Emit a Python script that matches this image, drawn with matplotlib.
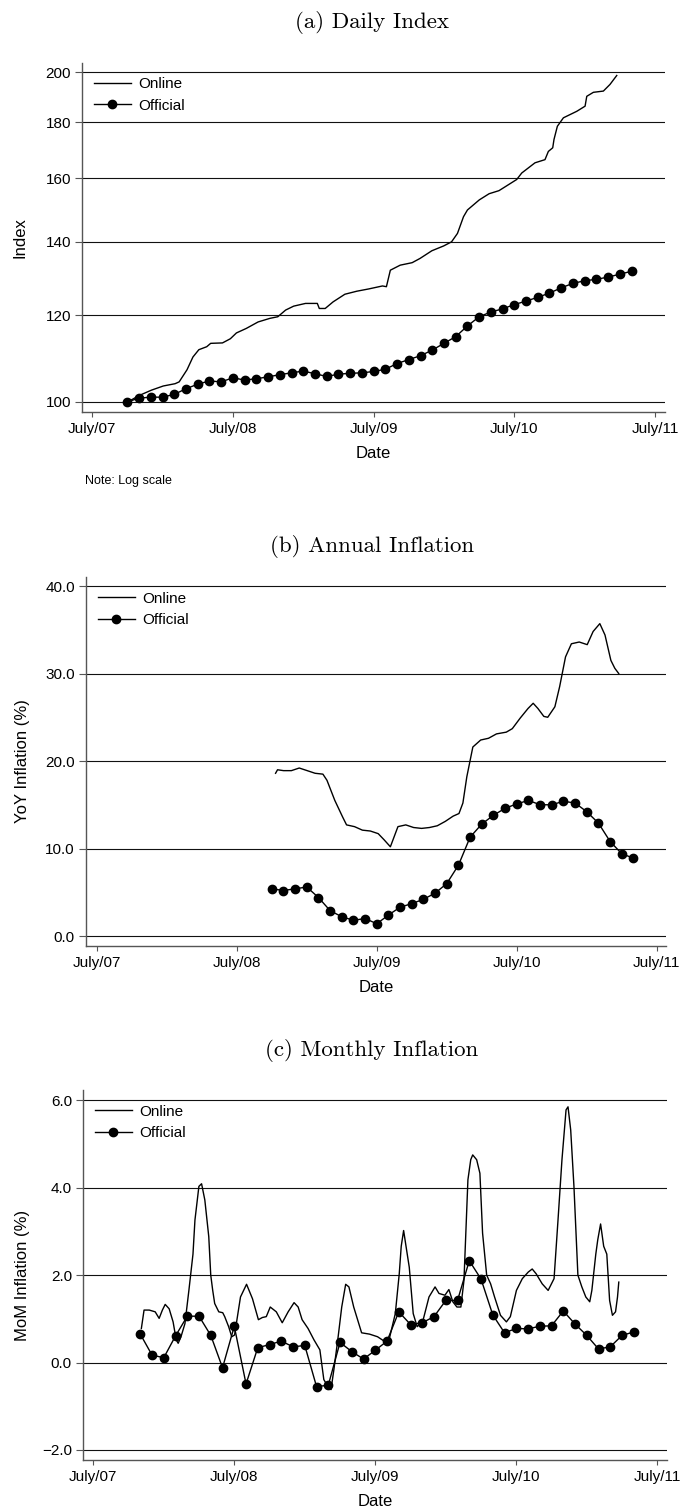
import numpy as np
import pandas as pd
import matplotlib
matplotlib.use('Agg')
import matplotlib.pyplot as plt
from matplotlib.ticker import FixedLocator, FixedFormatter, NullLocator

plt.rcParams['font.family'] = ['Liberation Sans', 'DejaVu Sans']

# x values are decimal years (July/07 = 2007.5)
tick_years = [2007.5, 2008.5, 2009.5, 2010.5, 2011.5]
tick_labels = ['July/07', 'July/08', 'July/09', 'July/10', 'July/11']

# official CPI, monthly
off_months = pd.date_range('2007-10-01', '2011-05-01', freq='MS')
off_index = [100.0, 100.8, 101.0, 101.0, 101.6, 102.8, 103.8, 104.5, 104.3, 105.2,
             104.7, 105.0, 105.4, 105.9, 106.3, 106.7, 106.1, 105.5, 106.0, 106.2,
             106.3, 106.6, 107.1, 108.4, 109.3, 110.2, 111.5, 113.1, 114.7, 117.3,
             119.6, 120.8, 121.6, 122.7, 123.6, 124.6, 125.7, 127.1, 128.3, 129.0,
             129.4, 130.0, 130.8, 131.6]
off_yoy = [5.4, 5.2, 5.4, 5.6, 4.4, 2.9, 2.2, 1.8, 2.0, 1.4, 2.4, 3.3, 3.7, 4.2,
           4.9, 6.0, 8.1, 11.3, 12.8, 13.8, 14.6, 15.1, 15.5, 15.0, 15.0, 15.4,
           15.2, 14.2, 12.9, 10.8, 9.4, 8.9]
off_mom = [0.65, 0.17, 0.11, 0.61, 1.06, 1.06, 0.62, -0.12, 0.83, -0.49, 0.34,
           0.41, 0.49, 0.36, 0.39, -0.55, -0.52, 0.46, 0.25, 0.08, 0.28, 0.49,
           1.16, 0.87, 0.91, 1.05, 1.42, 1.42, 2.33, 1.91, 1.09, 0.68, 0.78, 0.77,
           0.83, 0.84, 1.18, 0.88, 0.62, 0.31, 0.36, 0.62, 0.70]

# online daily index
onl_idx_t = [2007.753, 2007.837, 2007.921, 2008.005, 2008.089, 2008.118, 2008.174,
             2008.216, 2008.258, 2008.314, 2008.342, 2008.426, 2008.482, 2008.525,
             2008.595, 2008.679, 2008.763, 2008.819, 2008.875, 2008.932, 2009.016,
             2009.100, 2009.114, 2009.156, 2009.212, 2009.296, 2009.381, 2009.465,
             2009.563, 2009.591, 2009.619, 2009.689, 2009.774, 2009.830, 2009.914,
             2009.998, 2010.054, 2010.096, 2010.139, 2010.167, 2010.251, 2010.321,
             2010.391, 2010.422, 2010.517, 2010.553, 2010.647, 2010.718, 2010.742,
             2010.773, 2010.782, 2010.806, 2010.849, 2010.944, 2011.003, 2011.015,
             2011.062, 2011.133, 2011.180, 2011.228]
onl_idx = [100.0, 101.4, 102.5, 103.4, 103.9, 104.3, 107.0, 109.9, 111.6, 112.3,
           113.1, 113.2, 114.2, 115.6, 116.7, 118.3, 119.2, 119.6, 121.3, 122.3,
           123.0, 123.0, 121.7, 121.7, 123.4, 125.4, 126.2, 126.8, 127.6, 127.4,
           131.9, 133.3, 134.0, 135.2, 137.4, 138.8, 140.0, 142.5, 147.6, 149.7,
           152.9, 154.9, 155.9, 156.8, 159.6, 161.8, 165.3, 166.4, 169.3, 170.6,
           173.6, 178.5, 181.7, 184.2, 186.2, 190.1, 191.7, 192.2, 194.9, 198.6]

# online annual inflation
onl_yoy_t = [2008.777, 2008.791, 2008.834, 2008.890, 2008.946, 2009.003, 2009.059,
             2009.115, 2009.144, 2009.200, 2009.256, 2009.284, 2009.341, 2009.397,
             2009.454, 2009.510, 2009.552, 2009.597, 2009.651, 2009.707, 2009.763,
             2009.820, 2009.876, 2009.932, 2009.989, 2010.045, 2010.087, 2010.115,
             2010.143, 2010.186, 2010.242, 2010.298, 2010.355, 2010.425, 2010.468,
             2010.524, 2010.580, 2010.617, 2010.651, 2010.693, 2010.721, 2010.772,
             2010.806, 2010.848, 2010.890, 2010.946, 2011.003, 2011.045, 2011.093,
             2011.130, 2011.172, 2011.200, 2011.228]
onl_yoy = [18.6, 19.0, 18.9, 18.9, 19.2, 18.9, 18.6, 18.5, 17.8, 15.5, 13.6, 12.7,
           12.5, 12.1, 12.0, 11.7, 11.0, 10.2, 12.5, 12.7, 12.4, 12.3, 12.4, 12.6,
           13.1, 13.7, 14.0, 15.2, 18.2, 21.6, 22.4, 22.6, 23.1, 23.3, 23.7, 24.9,
           26.0, 26.6, 26.0, 25.1, 25.0, 26.2, 28.5, 31.9, 33.4, 33.6, 33.3, 34.8,
           35.7, 34.4, 31.5, 30.6, 30.0]

# online monthly inflation
onl_mom_t = [2007.841, 2007.860, 2007.897, 2007.939, 2007.967, 2007.990, 2008.010,
             2008.038, 2008.066, 2008.088, 2008.102, 2008.122, 2008.150, 2008.178,
             2008.207, 2008.221, 2008.249, 2008.268, 2008.291, 2008.319, 2008.333,
             2008.347, 2008.361, 2008.390, 2008.418, 2008.432, 2008.460, 2008.482,
             2008.502, 2008.544, 2008.587, 2008.629, 2008.671, 2008.699, 2008.727,
             2008.755, 2008.798, 2008.840, 2008.882, 2008.924, 2008.953, 2008.981,
             2009.023, 2009.065, 2009.107, 2009.135, 2009.164, 2009.186, 2009.206,
             2009.234, 2009.262, 2009.290, 2009.313, 2009.347, 2009.403, 2009.459,
             2009.516, 2009.558, 2009.600, 2009.642, 2009.670, 2009.684, 2009.701,
             2009.718, 2009.741, 2009.769, 2009.797, 2009.839, 2009.881, 2009.924,
             2009.952, 2009.994, 2010.022, 2010.050, 2010.079, 2010.107, 2010.129,
             2010.157, 2010.177, 2010.191, 2010.219, 2010.242, 2010.261, 2010.290,
             2010.318, 2010.346, 2010.388, 2010.430, 2010.458, 2010.501, 2010.543,
             2010.585, 2010.613, 2010.641, 2010.684, 2010.726, 2010.768, 2010.796,
             2010.824, 2010.853, 2010.867, 2010.886, 2010.909, 2010.937, 2010.965,
             2010.993, 2011.021, 2011.036, 2011.064, 2011.078, 2011.098, 2011.120,
             2011.142, 2011.162, 2011.182, 2011.204, 2011.218, 2011.227]
onl_mom = [0.78, 1.20, 1.20, 1.16, 1.01, 1.20, 1.33, 1.23, 0.93, 0.52, 0.44, 0.59,
           0.89, 1.65, 2.48, 3.26, 4.03, 4.09, 3.72, 2.88, 2.00, 1.65, 1.35, 1.16,
           1.14, 1.05, 0.82, 0.59, 0.63, 1.50, 1.79, 1.46, 0.98, 1.03, 1.05, 1.27,
           1.16, 0.91, 1.16, 1.37, 1.27, 0.98, 0.78, 0.52, 0.29, -0.39, -0.55, -0.62,
           -0.17, 0.52, 1.27, 1.79, 1.73, 1.27, 0.68, 0.65, 0.59, 0.50, 0.55, 1.12,
           2.03, 2.66, 3.02, 2.66, 2.18, 1.12, 0.82, 0.97, 1.50, 1.73, 1.58, 1.54,
           1.67, 1.39, 1.27, 1.27, 1.88, 4.18, 4.64, 4.75, 4.64, 4.33, 2.96, 2.00,
           1.80, 1.50, 1.08, 0.93, 1.05, 1.65, 1.92, 2.07, 2.14, 2.03, 1.80, 1.65,
           1.92, 3.26, 4.64, 5.78, 5.85, 5.32, 4.03, 2.00, 1.73, 1.50, 1.39, 1.65,
           2.48, 2.81, 3.17, 2.66, 2.48, 1.42, 1.08, 1.16, 1.50, 1.84]

off_t = off_months.year + (off_months.month - 1) / 12.0

W, H = 680, 1510
fig = plt.figure(figsize=(W / 100, H / 100), dpi=100)


def make_axes(left, top, right, bottom):
    return fig.add_axes([left / W, 1 - bottom / H, (right - left) / W, (bottom - top) / H])


def style(ax, xlim, ylim, yticks, ylabels, ylabel, ylab_x):
    ax.set_xlim(*xlim)
    ax.set_ylim(*ylim)
    ax.yaxis.set_major_locator(FixedLocator(yticks))
    ax.yaxis.set_major_formatter(FixedFormatter(ylabels))
    ax.yaxis.set_minor_locator(NullLocator())
    ax.xaxis.set_major_locator(FixedLocator(tick_years))
    ax.xaxis.set_major_formatter(FixedFormatter(tick_labels))
    ax.xaxis.set_minor_locator(NullLocator())
    for s in ['top', 'right']:
        ax.spines[s].set_visible(False)
    for s in ['left', 'bottom']:
        ax.spines[s].set_color('#555555')
        ax.spines[s].set_linewidth(1.0)
    ax.tick_params(axis='y', length=5, width=0.8, color='#555555', pad=3, labelsize=11)
    ax.tick_params(axis='x', length=3.5, width=0.8, color='#555555', pad=4, labelsize=11)
    ax.grid(axis='y', color='#111111', lw=0.8)
    ax.set_axisbelow(True)
    ax.set_ylabel(ylabel, fontsize=12)
    ax.yaxis.set_label_coords(ylab_x, 0.5)
    ax.yaxis.label.set_va('center')
    ax.set_xlabel('Date', fontsize=12)
    h = ax.get_position().height * H
    ax.xaxis.set_label_coords(0.5, -41 / h)
    ax.xaxis.label.set_va('center')
    ax.legend(loc='upper left', bbox_to_anchor=(0.005, 0.985), frameon=False,
              fontsize=11, handlelength=2.4, handletextpad=0.5, labelspacing=0.5,
              borderaxespad=0.2)


def draw(ax, t_onl, v_onl, v_off, n_off):
    ax.plot(t_onl, v_onl, color='black', lw=1.0, label='Online')
    ax.plot(off_t[-n_off:], v_off, color='black', lw=1.0, marker='o', ms=6,
            label='Official')


title_kw = dict(ha='center', va='center', fontsize=16.5, family='cmr10')
title_x = 372 / W

# (a) Daily Index
fig.text(title_x, 1 - 22 / H, '(a) Daily Index', **title_kw)
ax1 = make_axes(82, 62.5, 665, 412)
ax1.set_yscale('log')
draw(ax1, onl_idx_t, onl_idx, off_index, len(off_index))
style(ax1, (2007.4275, 2011.571), (97.9, 204.1), [100, 120, 140, 160, 180, 200],
      ['100', '120', '140', '160', '180', '200'], 'Index', -0.106)
fig.text(85 / W, 1 - 481 / H, 'Note: Log scale', fontsize=9, va='center', ha='left')

# (b) Annual Inflation
fig.text(title_x, 1 - 547 / H, '(b) Annual Inflation', **title_kw)
ax2 = make_axes(86, 577, 666, 946)
draw(ax2, onl_yoy_t, onl_yoy, off_yoy, len(off_yoy))
style(ax2, (2007.4229, 2011.5657), (-1.14, 41.03), [0, 10, 20, 30, 40],
      ['0.0', '10.0', '20.0', '30.0', '40.0'], 'YoY Inflation (%)', -0.109)

# (c) Monthly Inflation
fig.text(title_x, 1 - 1050 / H, '(c) Monthly Inflation', **title_kw)
ax3 = make_axes(83, 1090, 667, 1460)
draw(ax3, onl_mom_t, onl_mom, off_mom, len(off_mom))
style(ax3, (2007.427, 2011.569), (-2.23, 6.235), [-2, 0, 2, 4, 6],
      ['\u22122.0', '0.0', '2.0', '4.0', '6.0'], 'MoM Inflation (%)', -0.103)

fig.savefig('out.png', dpi=100)
